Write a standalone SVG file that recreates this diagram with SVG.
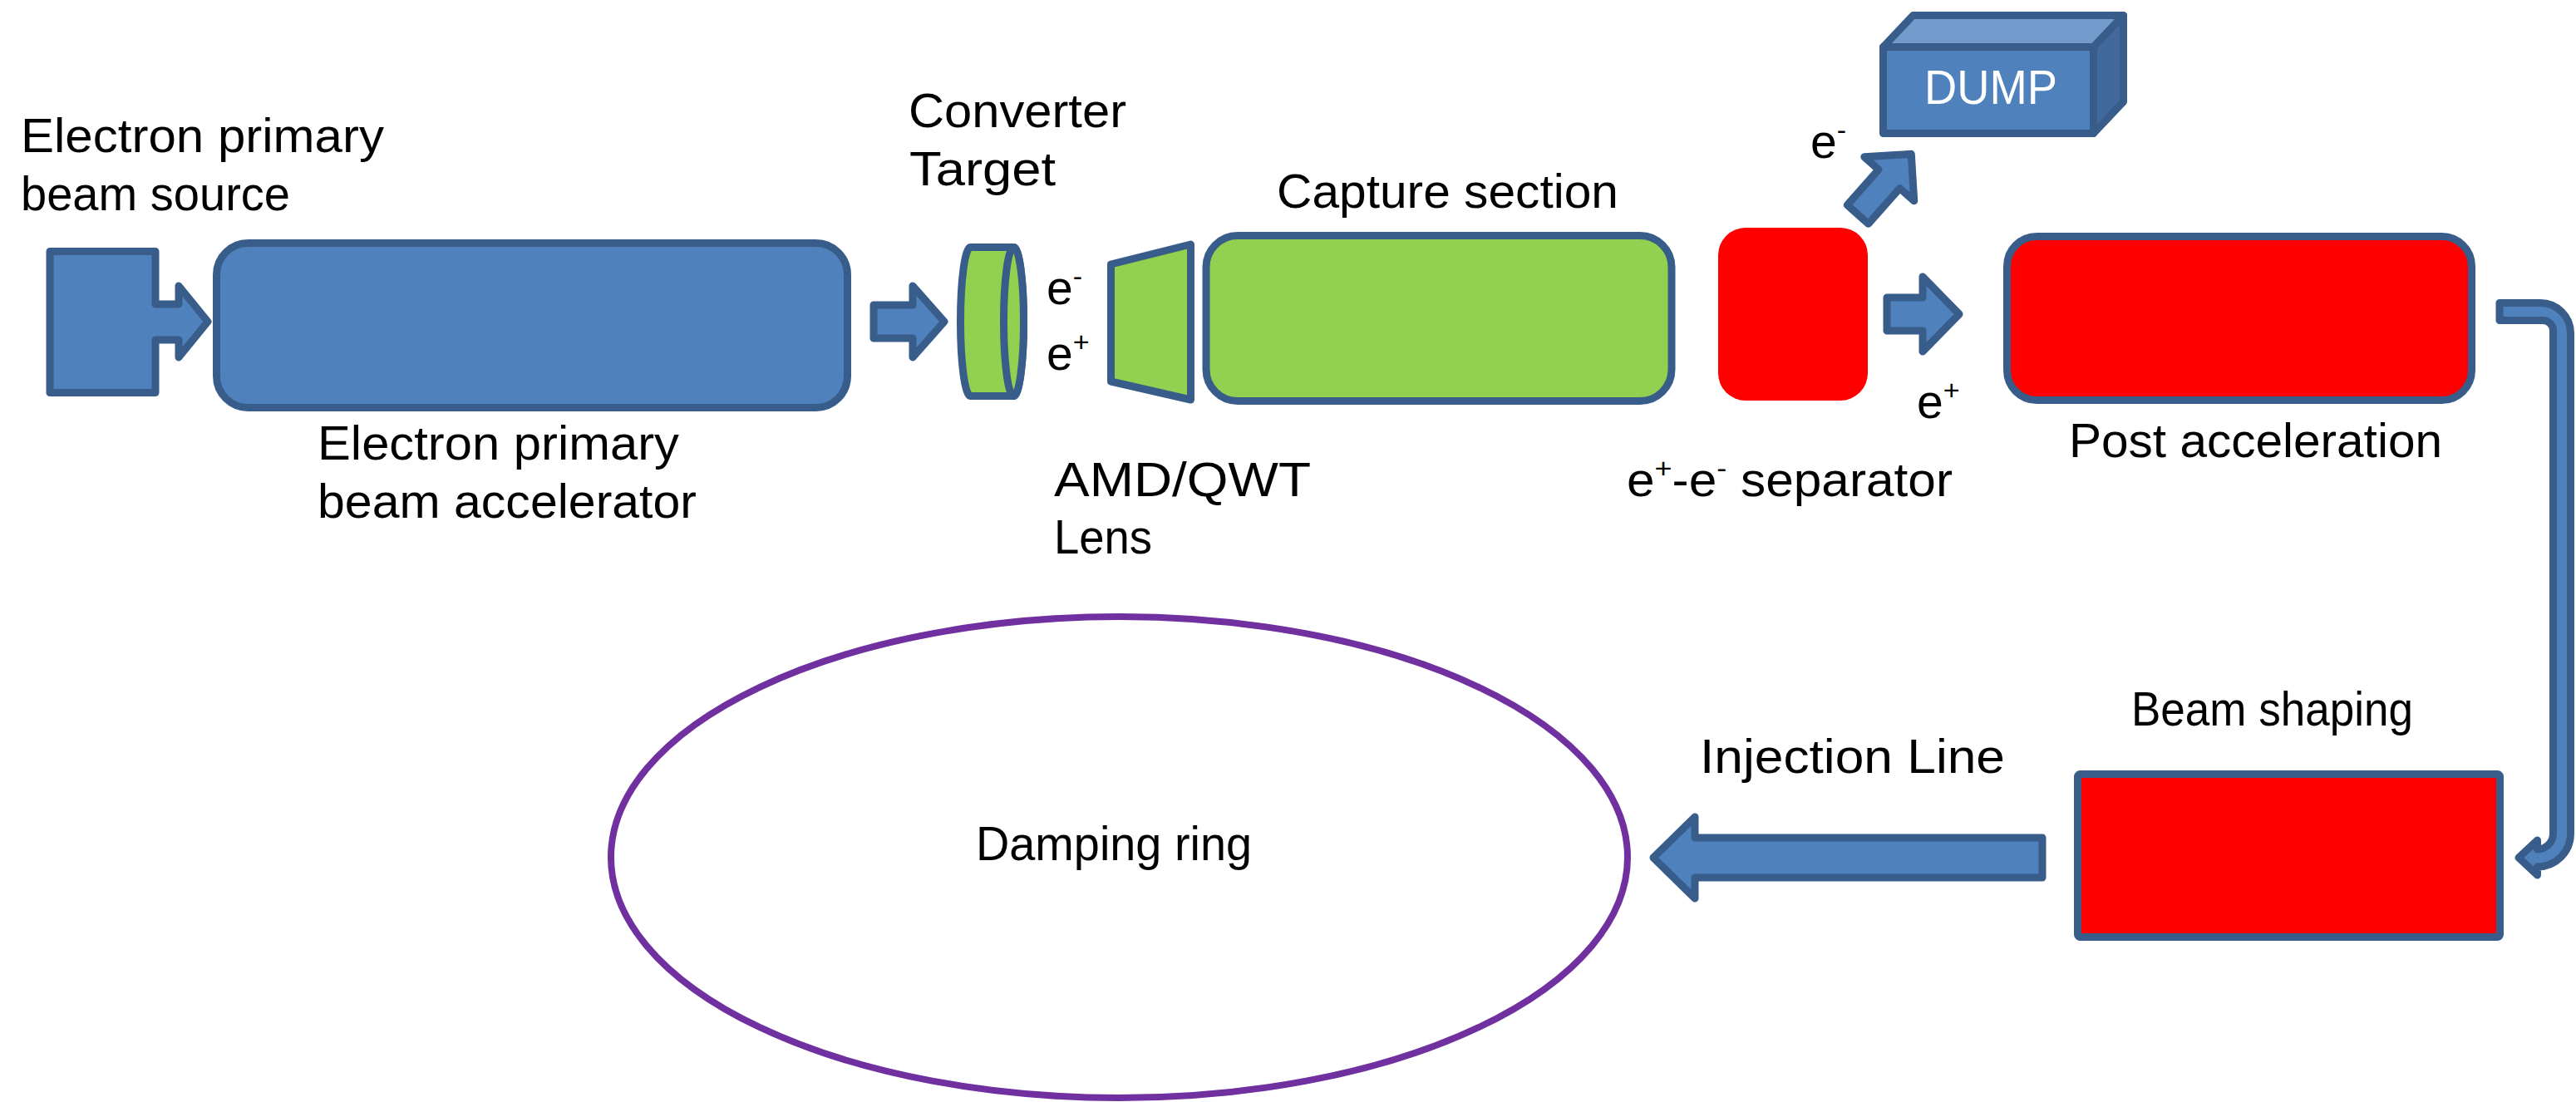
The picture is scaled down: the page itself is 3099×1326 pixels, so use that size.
<svg xmlns="http://www.w3.org/2000/svg" width="3099" height="1326" viewBox="0 0 3099 1326">
<style>
.bl{fill:#4F81BD;stroke:#385D8A;stroke-width:9;stroke-linejoin:round}
.gr{fill:#92D050;stroke:#385D8A;stroke-width:9;stroke-linejoin:round}
.rd{fill:#FF0000;stroke:#385D8A;stroke-width:9;stroke-linejoin:round}
.t{font-family:"Liberation Sans",Arial,sans-serif;font-size:57px;fill:#000}
.s{font-size:34px}
</style>
<rect width="3099" height="1326" fill="#fff"/>

<g id="connectors">
  <path class="bl" d="M1051,367 L1098,367 L1098,344 L1136,387 L1098,430 L1098,407 L1051,407 Z"/>
  <path class="bl" d="M2270,358 L2313,358 L2313,333 L2357,378 L2313,423 L2313,398 L2270,398 Z"/>
  <path class="bl" transform="translate(2235,258) rotate(-48.5)" d="M0,-17 L57,-17 L57,-40 L97,0 L57,40 L57,17 L0,17 Z"/>
  <path class="bl" d="M3007,364.5 L3056,364.5 A36.5,36.5 0 0 1 3092.5,401 L3092.5,1003 A40,40 0 0 1 3052.5,1043 L3052.5,1053 L3030,1032 L3052.5,1011 L3052.5,1022 A19,19 0 0 0 3071.5,1003 L3071.5,398 A12.5,12.5 0 0 0 3059,385.5 L3007,385.5 Z"/>
  <path class="bl" d="M1989,1032 L2039,983 L2039,1008 L2457,1008 L2457,1056 L2039,1056 L2039,1081 Z"/>
</g>

<g id="source">
  <path class="bl" d="M60,302.5 L187,302.5 L187,366 L215,366 L215,344 L250,387 L215,430 L215,409 L187,409 L187,472.5 L60,472.5 Z"/>
  <text class="t" x="25" y="183" textLength="437" lengthAdjust="spacingAndGlyphs">Electron primary</text>
  <text class="t" x="25" y="253" textLength="324" lengthAdjust="spacingAndGlyphs">beam source</text>
</g>

<g id="accelerator">
  <rect class="bl" x="260.5" y="292.5" width="759" height="198" rx="38" ry="38"/>
  <text class="t" x="382" y="553" textLength="435" lengthAdjust="spacingAndGlyphs">Electron primary</text>
  <text class="t" x="382" y="623" textLength="456" lengthAdjust="spacingAndGlyphs">beam accelerator</text>
</g>

<g id="converter">
  <path class="gr" d="M1167.5,297.5 L1219.5,297.5 A12,89.5 0 0 1 1219.5,476.5 L1167.5,476.5 A12,89.5 0 0 1 1167.5,297.5 Z"/>
  <ellipse class="gr" cx="1219.5" cy="387" rx="12" ry="89.5"/>
  <text class="t" x="1093" y="153" textLength="262" lengthAdjust="spacingAndGlyphs">Converter</text>
  <text class="t" x="1094" y="223" textLength="176" lengthAdjust="spacingAndGlyphs">Target</text>
  <text class="t" x="1259" y="366">e<tspan class="s" dy="-22">-</tspan></text>
  <text class="t" x="1259" y="445">e<tspan class="s" dy="-22">+</tspan></text>
</g>

<g id="lens">
  <path class="gr" d="M1336.5,318 L1432.5,294 L1432.5,481 L1336.5,459 Z"/>
  <text class="t" x="1268" y="597" textLength="309" lengthAdjust="spacingAndGlyphs">AMD/QWT</text>
  <text class="t" x="1268" y="666" textLength="118" lengthAdjust="spacingAndGlyphs">Lens</text>
</g>

<g id="capture">
  <rect class="gr" x="1451" y="283.5" width="560" height="199" rx="38" ry="38"/>
  <text class="t" x="1536" y="250" textLength="411" lengthAdjust="spacingAndGlyphs">Capture section</text>
</g>

<g id="separator">
  <rect x="2067" y="274" width="180" height="208" rx="33" ry="33" fill="#FF0000"/>
  <text class="t" x="1957" y="597" textLength="392" lengthAdjust="spacingAndGlyphs">e<tspan class="s" dy="-22">+</tspan><tspan dy="22">-e</tspan><tspan class="s" dy="-22">-</tspan><tspan dy="22"> separator</tspan></text>
  <text class="t" x="2178" y="190">e<tspan class="s" dy="-22">-</tspan></text>
  <text class="t" x="2306" y="503">e<tspan class="s" dy="-22">+</tspan></text>
</g>

<g id="dump">
  <rect x="2265.5" y="56.5" width="253" height="104" fill="#4F81BD" stroke="#385D8A" stroke-width="9" stroke-linejoin="round"/>
  <path d="M2265.5,56.5 L2301.5,18.5 L2554.5,18.5 L2518.5,56.5 Z" fill="#739CCC" stroke="#385D8A" stroke-width="9" stroke-linejoin="round"/>
  <path d="M2518.5,56.5 L2554.5,18.5 L2554.5,122.5 L2518.5,160.5 Z" fill="#41699C" stroke="#385D8A" stroke-width="9" stroke-linejoin="round"/>
  <text class="t" x="2315" y="125" textLength="160" lengthAdjust="spacingAndGlyphs" style="fill:#fff">DUMP</text>
</g>

<g id="post-acceleration">
  <rect class="rd" x="2414.5" y="284.5" width="559" height="197" rx="36" ry="36"/>
  <text class="t" x="2489" y="550" textLength="449" lengthAdjust="spacingAndGlyphs">Post acceleration</text>
</g>

<g id="beam-shaping">
  <rect class="rd" x="2499.5" y="931.5" width="508" height="196" rx="3" ry="3"/>
  <text class="t" x="2564" y="873" textLength="339" lengthAdjust="spacingAndGlyphs">Beam shaping</text>
</g>

<g id="injection-line-label">
  <text class="t" x="2045" y="930" textLength="367" lengthAdjust="spacingAndGlyphs">Injection Line</text>
</g>

<g id="damping-ring">
  <ellipse cx="1346.5" cy="1031.5" rx="611.5" ry="289.5" fill="#fff" stroke="#7030A0" stroke-width="8"/>
  <text class="t" x="1174" y="1035" textLength="332" lengthAdjust="spacingAndGlyphs">Damping ring</text>
</g>
</svg>
